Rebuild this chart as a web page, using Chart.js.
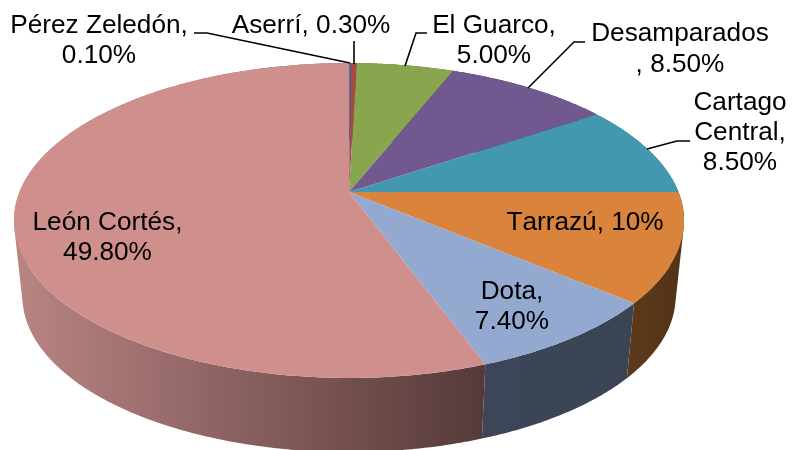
<!DOCTYPE html>
<html lang="en">
    <head>
        <meta charset="UTF-8" />
        <title>Tilted pie</title>
        <script src="https://cdn.jsdelivr.net/npm/chart.js"></script>
        <style>
            html, body { margin: 0; padding: 0; background: #fff; }
            canvas { display: block; }
        </style>
    </head>
    <body>
        <canvas id="pieChart" width="793" height="450"></canvas>

        <script>
            const cantons = ["Pérez Zeledón", "Aserrí", "El Guarco", "Desamparados", "Cartago Central", "Tarrazú", "Dota", "León Cortés"];
            const shares = [0.1, 0.3, 5, 8.5, 8.5, 10, 7.4, 49.8];

            const topColors = ["#4572a7", "#aa4643", "#89a54e", "#71588f", "#4198af", "#d9833c", "#93a9cf", "#cf8f8d"];
            // side wall colours, left to right; only the front slices show theirs
            const wallColors = [
                ["#2a4464", "#2a4464"],
                ["#662a28", "#662a28"],
                ["#52632e", "#52632e"],
                ["#443555", "#443555"],
                ["#275b69", "#275b69"],
                ["#5c3a1a", "#543217"],
                ["#3c4658", "#3a4454"],
                ["#b98583", "#553939"],
            ];
            // x range each wall gradient runs over
            const wallSpans = [
                [349, 353], [353, 357], [357, 450], [450, 595], [595, 684], [627, 684], [484, 635], [14, 486],
            ];

            const textBlocks = [
                { lines: ["Pérez Zeledón,", "0.10%"], x: 99, y: [33, 63] },
                { lines: ["Aserrí, 0.30%"], x: 311, y: [33] },
                { lines: ["El Guarco,", "5.00%"], x: 494, y: [33, 63] },
                { lines: ["Desamparados", ", 8.50%"], x: 680, y: [41, 72] },
                { lines: ["Cartago", "Central,", "8.50%"], x: 740, y: [110, 140, 170] },
                { lines: ["Tarrazú, 10%"], x: 585, y: [230] },
                { lines: ["Dota,", "7.40%"], x: 512, y: [299, 329] },
                { lines: ["León Cortés,", "49.80%"], x: 107.5, y: [230, 260] },
            ];
            const leaders = [
                [[194, 33], [207, 33], [350, 63]],
                [[354, 41], [354, 64]],
                [[427, 33], [416, 33], [405, 66]],
                [[585, 42], [574, 42], [528, 88]],
                [[690, 141], [677, 141], [647, 149]],
            ];

            // perspective of the disc: apex is where the slices meet
            const apex = { x: 349, y: 192 };
            const radiusX = 329.5;
            const radiusY = 152.3;
            const tilt = 0.181;
            const wallDrop = 76;
            const wallShrinkX = 0.975;
            const wallShrinkY = 0.99;

            function rimPoint(angle, lower) {
                const w = 1 - tilt * Math.sin(angle);
                const sx = lower ? wallShrinkX : 1;
                const sy = lower ? wallShrinkY : 1;
                return [
                    apex.x + (sx * radiusX * Math.cos(angle)) / w,
                    apex.y + (lower ? wallDrop : 0) + (sy * radiusY * Math.sin(angle)) / w,
                ];
            }

            function rimAngles(start, end) {
                const n = Math.max(2, Math.ceil((end - start) / 0.01));
                const out = [];
                for (let i = 0; i <= n; i++) out.push(start + ((end - start) * i) / n);
                return out;
            }

            function signedArea(pts) {
                let sum = 0;
                pts.forEach((p, k) => {
                    const q = pts[(k + 1) % pts.length];
                    sum += p[0] * q[1] - q[0] * p[1];
                });
                return sum;
            }

            const tiltedPie = {
                id: "tiltedPie",
                // replaces the flat arcs, angles still come from the pie controller
                beforeDatasetsDraw(chart) {
                    const ctx = chart.ctx;
                    const arcs = chart.getDatasetMeta(0).data;
                    ctx.save();
                    arcs.forEach((arc, i) => {
                        const angles = rimAngles(arc.startAngle, arc.endAngle);
                        const g = ctx.createLinearGradient(wallSpans[i][0], 0, wallSpans[i][1], 0);
                        g.addColorStop(0, wallColors[i][0]);
                        g.addColorStop(1, wallColors[i][1]);
                        ctx.fillStyle = g;
                        // all quads in one path with one winding, so no seams and no cancelling at the fold
                        ctx.beginPath();
                        for (let k = 0; k < angles.length - 1; k++) {
                            const quad = [
                                rimPoint(angles[k], false),
                                rimPoint(angles[k + 1], false),
                                rimPoint(angles[k + 1], true),
                                rimPoint(angles[k], true),
                            ];
                            if (signedArea(quad) < 0) quad.reverse();
                            quad.forEach((p, n) => (n === 0 ? ctx.moveTo(p[0], p[1]) : ctx.lineTo(p[0], p[1])));
                            ctx.closePath();
                        }
                        ctx.fill();
                    });
                    arcs.forEach((arc, i) => {
                        ctx.fillStyle = topColors[i];
                        ctx.beginPath();
                        ctx.moveTo(apex.x, apex.y);
                        rimAngles(arc.startAngle, arc.endAngle).forEach((a) => {
                            const p = rimPoint(a, false);
                            ctx.lineTo(p[0], p[1]);
                        });
                        ctx.closePath();
                        ctx.fill();
                    });
                    ctx.restore();
                    return false;
                },
                afterDraw(chart) {
                    const ctx = chart.ctx;
                    ctx.save();
                    ctx.strokeStyle = "#000";
                    ctx.lineWidth = 1.6;
                    leaders.forEach((pts) => {
                        ctx.beginPath();
                        pts.forEach((p, k) => (k === 0 ? ctx.moveTo(p[0], p[1]) : ctx.lineTo(p[0], p[1])));
                        ctx.stroke();
                    });
                    ctx.fillStyle = "#000";
                    ctx.font = '26.2px "Liberation Sans", Arial, sans-serif';
                    ctx.fontKerning = "none";
                    ctx.textAlign = "center";
                    ctx.textBaseline = "alphabetic";
                    textBlocks.forEach((b) => {
                        b.lines.forEach((line, k) => ctx.fillText(line, b.x, b.y[k]));
                    });
                    ctx.restore();
                },
            };

            new Chart(document.getElementById("pieChart"), {
                type: "pie",
                data: {
                    labels: cantons,
                    datasets: [{ data: shares, backgroundColor: topColors, borderWidth: 0 }],
                },
                options: {
                    responsive: false,
                    animation: false,
                    plugins: {
                        legend: { display: false },
                        tooltip: { enabled: false },
                    },
                },
                plugins: [tiltedPie],
            });
        </script>
    </body>
</html>
